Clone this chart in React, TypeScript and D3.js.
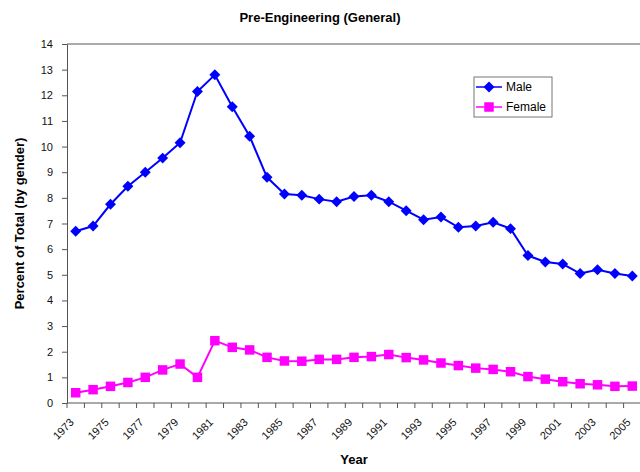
import * as d3 from "d3";
import { useEffect, useRef } from "react";

// years on the category axis
const years = d3.range(1973, 2006).map(String);

// percent of total
const male = [
  6.7, 6.9, 7.75, 8.45, 9.0, 9.55, 10.15, 12.15, 12.8, 11.55, 10.4,
  8.8, 8.15, 8.1, 7.95, 7.85, 8.05, 8.1, 7.85, 7.5, 7.15, 7.25,
  6.85, 6.9, 7.05, 6.8, 5.75, 5.5, 5.42, 5.05, 5.2, 5.05, 4.95,
];
const female = [
  0.4, 0.52, 0.65, 0.8, 1.0, 1.29, 1.52, 1.0, 2.43, 2.17, 2.07,
  1.78, 1.64, 1.63, 1.7, 1.7, 1.78, 1.81, 1.89, 1.77, 1.68, 1.56,
  1.46, 1.36, 1.31, 1.22, 1.03, 0.93, 0.83, 0.75, 0.71, 0.65, 0.66,
];
const yTicks = d3.range(0, 15);

export default function App() {
  const ref = useRef<SVGSVGElement>(null);

  useEffect(() => {
    const width = 640;
    const height = 472;
    const left = 67;
    const right = 641;
    const top = 44;
    const bottom = 403;
    const font = "'Liberation Sans', Arial, sans-serif";
    const axisColor = "#555";

    const svg = d3.select(ref.current)
      .attr("width", width)
      .attr("height", height)
      .style("font-family", font);
    svg.selectAll("*").remove();

    svg.append("rect").attr("width", width).attr("height", height).attr("fill", "#fff");

    const x = d3.scaleBand().domain(years).range([left, right]);
    const y = d3.scaleLinear().domain([0, 14]).range([bottom, top]);
    const cx = (d: string) => (x(d) as number) + x.bandwidth() / 2;

    // title
    svg.append("text")
      .attr("x", 320).attr("y", 22)
      .attr("text-anchor", "middle")
      .attr("font-weight", "bold").attr("font-size", 13)
      .text("Pre-Engineering (General)");

    // top frame line
    svg.append("line")
      .attr("x1", left).attr("x2", width).attr("y1", top).attr("y2", top)
      .attr("stroke", axisColor);

    // y axis
    const yAxis = svg.append("g")
      .attr("transform", `translate(${left},0)`)
      .call(d3.axisLeft(y).tickValues(yTicks).tickSize(5).tickPadding(9).tickSizeOuter(0));
    yAxis.select(".domain").attr("stroke", axisColor);
    yAxis.selectAll(".tick line").attr("stroke", axisColor);
    yAxis.selectAll(".tick text")
      .attr("font-size", 11).attr("font-family", font).attr("fill", "#111");

    // x axis: line, ticks between categories, every other label rotated
    svg.append("line")
      .attr("x1", left).attr("x2", width).attr("y1", bottom).attr("y2", bottom)
      .attr("stroke", axisColor);
    svg.append("g")
      .selectAll("line")
      .data(years)
      .join("line")
      .attr("x1", d => x(d) as number).attr("x2", d => x(d) as number)
      .attr("y1", bottom).attr("y2", bottom + 5)
      .attr("stroke", axisColor);
    svg.append("g")
      .selectAll("text")
      .data(years.filter((_, i) => i % 2 === 0))
      .join("text")
      .attr("transform", d => `translate(${cx(d) - 1},${bottom + 20}) rotate(-45)`)
      .attr("text-anchor", "end")
      .attr("font-size", 11)
      .attr("fill", "#111")
      .text(d => d);

    // axis titles
    svg.append("text")
      .attr("x", (left + right) / 2).attr("y", 464)
      .attr("text-anchor", "middle")
      .attr("font-weight", "bold").attr("font-size", 13)
      .text("Year");
    svg.append("text")
      .attr("transform", `translate(24,${(top + bottom) / 2}) rotate(-90)`)
      .attr("text-anchor", "middle")
      .attr("font-weight", "bold").attr("font-size", 13)
      .text("Percent of Total (by gender)");

    const line = d3.line<number>()
      .x((_, i) => cx(years[i]))
      .y(d => y(d));

    const diamond = d3.symbol().type(d3.symbolSquare).size(60)();
    const square = d3.symbol().type(d3.symbolSquare).size(90)();

    const series = [
      { name: "Male", values: male, color: "#0000ff", path: diamond, rot: 45 },
      { name: "Female", values: female, color: "#ff00ff", path: square, rot: 0 },
    ];

    series.forEach(s => {
      svg.append("path")
        .datum(s.values)
        .attr("fill", "none")
        .attr("stroke", s.color)
        .attr("stroke-width", 2)
        .attr("d", line);
      svg.append("g")
        .selectAll("path")
        .data(s.values)
        .join("path")
        .attr("transform", (d, i) => `translate(${cx(years[i])},${y(d)}) rotate(${s.rot})`)
        .attr("d", s.path)
        .attr("fill", s.color);
    });

    // legend
    const lg = svg.append("g").attr("transform", "translate(474,77)");
    lg.append("rect")
      .attr("width", 78).attr("height", 40)
      .attr("fill", "#fff").attr("stroke", "#777");
    series.forEach((s, i) => {
      const ly = 10 + i * 20;
      lg.append("line")
        .attr("x1", 2).attr("x2", 28).attr("y1", ly).attr("y2", ly)
        .attr("stroke", s.color).attr("stroke-width", 1.5);
      lg.append("path")
        .attr("transform", `translate(15,${ly}) rotate(${s.rot})`)
        .attr("d", s.path)
        .attr("fill", s.color);
      lg.append("text")
        .attr("x", 32).attr("y", ly + 4)
        .attr("font-size", 12)
        .text(s.name);
    });
  }, []);

  return (
    <div style={{ position: "absolute", left: 0, top: 0 }}>
      <svg ref={ref}></svg>
    </div>
  );
}
